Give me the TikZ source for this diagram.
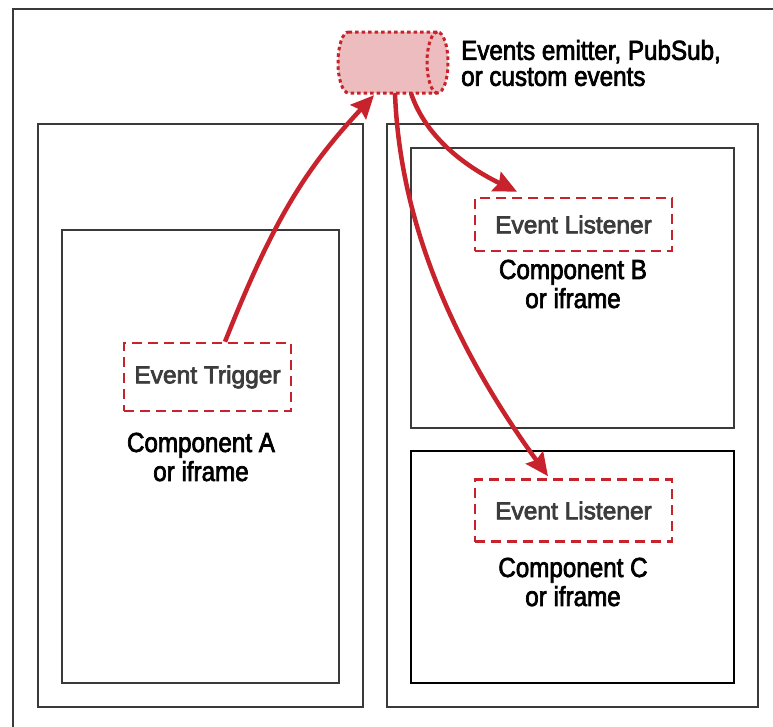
\documentclass[tikz,border=0pt]{standalone}
\usepackage{fontspec}
\setmainfont{Liberation Sans}
\newfontfamily\condfont{Liberation Sans}[FakeStretch=0.88,FakeBold=2.5]
\newfontfamily\evfont{Liberation Sans}[FakeBold=3]
\usetikzlibrary{arrows.meta,calc}
\definecolor{evred}{HTML}{C8232C}
\definecolor{evpink}{HTML}{EDBCBE}
\definecolor{evgray}{HTML}{3C3C3C}
\definecolor{frame}{HTML}{3A3A3A}
\tikzset{
  outerframe/.style={draw=frame, line width=2pt},
  container/.style={draw=frame, line width=1.3pt, inner sep=0pt},
  compbox/.style={draw=frame, line width=1.3pt, inner sep=0pt},
  compboxthick/.style={draw=black, line width=2.2pt, inner sep=0pt},
  evbox/.style={draw=evred, line width=2.6pt, dash pattern=on 10pt off 6pt,
    text=evgray, font=\evfont\fontsize{24.5}{28}\selectfont, inner sep=0pt},
  complabel/.style={align=center, font=\condfont\fontsize{27.5}{29}\selectfont, inner sep=0pt},
  emitlabel/.style={align=left, font=\condfont\fontsize{27.5}{26}\selectfont, inner sep=0pt, anchor=west},
  evarrow/.style={draw=evred, line width=4.5pt, -{Stealth[length=23pt,width=21pt,inset=3pt]}},
  cylbody/.style={draw=evred, fill=evpink, line width=3pt, dash pattern=on 3.5pt off 3pt}
}
\begin{document}
\begin{tikzpicture}[x=1pt,y=-1pt]
\useasboundingbox (0,0) rectangle (773,726);
\clip (0,0) rectangle (773,726);
\fill[white] (0,0) rectangle (773,726);

% outer frame (cut by the picture edge)
\draw[outerframe] (13,9) rectangle (800,760);

% containers
\node[container, minimum width=325pt, minimum height=583pt] (left) at (200.5,415.5) {};
\node[container, minimum width=371pt, minimum height=583pt] (right) at (572.5,415.5) {};

% component boxes
\node[compbox, minimum width=277pt, minimum height=453pt] (compA) at (200.5,456.5) {};
\node[compbox, minimum width=323pt, minimum height=280pt] (compB) at (572.5,288) {};
\node[compboxthick, minimum width=323pt, minimum height=232pt] (compC) at (572.5,567) {};

% event boxes
\node[evbox, minimum width=167pt, minimum height=68pt] (trig) at (207.5,377) {Event Trigger};
\node[evbox, minimum width=197pt, minimum height=53pt] (lisB) at (573.5,224.5) {Event Listener};
\node[evbox, minimum width=197pt, minimum height=62pt] (lisC) at (573.5,510.5) {Event Listener};

% component labels
\node[complabel] (labA) at (201,457) {Component A\\or iframe};
\node[complabel] (labB) at (573,284) {Component B\\or iframe};
\node[complabel] (labC) at (573,582) {Component C\\or iframe};

% events emitter (cylinder)
\node[minimum width=110pt, minimum height=61pt, inner sep=0pt] (cyl) at (393,62.5) {};
\draw[cylbody] (348.5,32) -- (437.5,32)
  arc[start angle=90, end angle=-90, x radius=10.5pt, y radius=30.5pt]
  -- (348.5,93)
  arc[start angle=270, end angle=90, x radius=10.5pt, y radius=30.5pt] -- cycle;
\draw[cylbody, fill=none] (437.5,32)
  arc[start angle=90, end angle=270, x radius=10.5pt, y radius=30.5pt];
\node[emitlabel] (emit) at (461,63) {Events emitter, PubSub,\\or custom events};

% arrows
\draw[evarrow] ([xshift=17.5pt]trig.north) .. controls +(48,-121) and +(-69,74) .. ([xshift=-19pt,yshift=-2pt]cyl.south);
\draw[evarrow] ([xshift=2pt]cyl.south) .. controls +(5,137) and +(-88,-121) .. ([xshift=-25.5pt,yshift=2pt]lisC.north);
\draw[evarrow] ([xshift=18pt]cyl.south) .. controls +(16,48) and +(-45,-22) .. ([xshift=-56.5pt,yshift=5pt]lisB.north);
\end{tikzpicture}
\end{document}
